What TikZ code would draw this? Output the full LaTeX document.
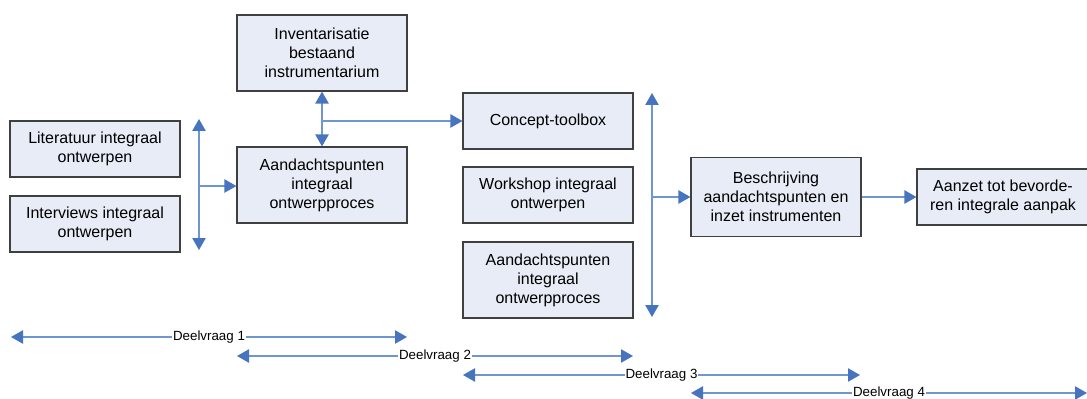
\documentclass[tikz,border=0pt]{standalone}
\usepackage{fontspec}
\setmainfont{Liberation Sans}
\usetikzlibrary{arrows.meta}
\definecolor{blokvul}{RGB}{231,236,246}
\definecolor{bloklijn}{RGB}{64,64,64}
\definecolor{pijllijn}{RGB}{112,150,208}
\definecolor{pijlpunt}{RGB}{70,116,190}
\tikzset{
	blok/.style={draw=bloklijn, line width=0.9pt, fill=blokvul, align=center, minimum width=127.5pt, minimum height=42pt, inner sep=2pt, font=\fontsize{12pt}{14.3pt}\selectfont},
	hoogblok/.style={blok, minimum height=57pt},
	punt/.tip={Triangle[length=9pt, width=10pt, color=pijlpunt]},
	pijl/.style={draw=pijllijn, line width=1pt, -punt},
	dubbel/.style={draw=pijllijn, line width=1pt, punt-punt},
	vraag/.style={fill=white, inner sep=0.5pt, font=\fontsize{10pt}{12pt}\selectfont}
}

\begin{document}
\begin{tikzpicture}[x=0.75pt, y=-0.75pt]
				\useasboundingbox (0,0) rectangle (1087,399);
				
				\node[blok] (lit) at (95,149) {Literatuur integraal\\ontwerpen};
				\node[blok] (int) at (95,224) {Interviews integraal\\ontwerpen};
				
				\node[hoogblok] (inv) at (322,53) {Inventarisatie\\bestaand\\instrumentarium};
				\node[hoogblok] (aand) at (322,185) {Aandachtspunten\\integraal\\ontwerpproces};
				
				\node[blok] (concept) at (548,121) {Concept-toolbox};
				\node[blok] (work) at (548,195) {Workshop integraal\\ontwerpen};
				\node[hoogblok] (aandb) at (548,280) {Aandachtspunten\\integraal\\ontwerpproces};
				
				\node[hoogblok, minimum height=59pt] (besch) at (776,197) {Beschrijving\\aandachtspunten en\\inzet instrumenten};
				\node[blok, minimum width=129pt] (aanzet) at (1003,197) {Aanzet tot bevorde-\\ren integrale aanpak};
				
				\coordinate (lboven) at (199,119);
				\coordinate (londer) at (199,250);
				\coordinate (lmidden) at (199,186);
				\draw[dubbel] (lboven) -- (londer);
				\draw[pijl] (lmidden) -- (lmidden -| aand.west);
				
				\draw[dubbel] (inv.south) -- (aand.north);
				\draw[pijl] (inv.south |- concept.west) -- (concept.west);
				
				\coordinate (rboven) at (652,93);
				\coordinate (ronder) at (652,317);
				\draw[dubbel] (rboven) -- (ronder);
				\draw[pijl] (rboven |- besch.west) -- (besch.west);
				\draw[pijl] (besch) -- (aanzet);
				
				\coordinate (v1a) at (11,337);
				\coordinate (v1b) at (407,337);
				\draw[dubbel] (v1a) -- (v1b) node[vraag, midway] (v1) {Deelvraag 1};
				
				\coordinate (v2a) at (237,356);
				\coordinate (v2b) at (633,356);
				\draw[dubbel] (v2a) -- (v2b) node[vraag, midway] (v2) {Deelvraag 2};
				
				\coordinate (v3a) at (463,375);
				\coordinate (v3b) at (860,375);
				\draw[dubbel] (v3a) -- (v3b) node[vraag, midway] (v3) {Deelvraag 3};
				
				\coordinate (v4a) at (691,393);
				\coordinate (v4b) at (1087,393);
				\draw[dubbel] (v4a) -- (v4b) node[vraag, midway] (v4) {Deelvraag 4};
			\end{tikzpicture}
\end{document}
